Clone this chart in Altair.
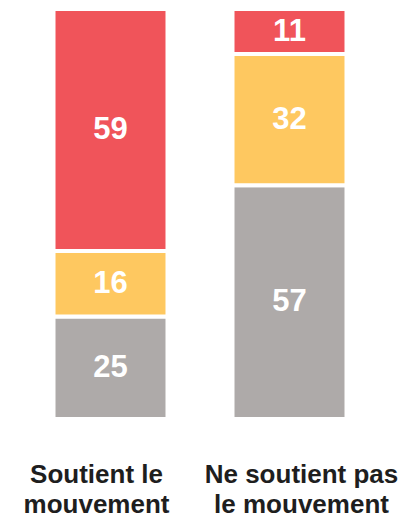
import altair as alt
import pandas as pd

groups = ["Soutient le|mouvement", "Ne soutient pas|le mouvement"]
segments = ["Sans avis", "Neutre", "Oui"]          # bottom -> top
seg_colors = ["#AEAAA9", "#FEC860", "#F0545A"]
values = {
    "Soutient le|mouvement": [25, 16, 59],
    "Ne soutient pas|le mouvement": [57, 32, 11],
}

rows = []
for g in groups:
    for i, s in enumerate(segments):
        rows.append({"groupe": g, "segment": s, "ordre": i, "valeur": values[g][i]})
df = pd.DataFrame(rows)

base = alt.Chart(df).transform_stack(
    stack="valeur", groupby=["groupe"], as_=["v0", "v1"],
    sort=[alt.SortField("ordre", order="ascending")]
).transform_calculate(mid="(datum.v0 + datum.v1) / 2")

x_enc = alt.X(
    "groupe:N", sort=groups, title=None,
    scale=alt.Scale(paddingInner=0, paddingOuter=0),
    axis=alt.Axis(
        labelExpr="split(datum.value, '|')",
        ticks=False, domain=False, grid=False,
        labelAngle=0, labelFont="Liberation Sans", labelFontWeight="bold",
        labelFontSize=26, labelColor="#1e1e1e", labelLineHeight=30,
        labelBaseline="top", labelPadding=42, labelLimit=0,
        labelOffset={"condition": {"test": "datum.value == 'Soutient le|mouvement'", "value": -14}, "value": 12},
    ),
)
y_scale = alt.Scale(domain=[0, 100], nice=False, zero=True)

bars = base.mark_bar(size=114, stroke="white", strokeWidth=4).encode(
    x=x_enc,
    y=alt.Y("v0:Q", scale=y_scale, axis=None),
    y2="v1:Q",
    color=alt.Color("segment:N", scale=alt.Scale(domain=segments, range=seg_colors), legend=None),
)

labels = base.mark_text(
    color="white", font="Liberation Sans", fontWeight="bold", fontSize=31,
    baseline="middle", align="center"
).encode(
    x=alt.X("groupe:N", sort=groups),
    y=alt.Y("mid:Q", scale=y_scale),
    text="valeur:Q",
)

chart = alt.layer(bars, labels).properties(
    width=358, height=410,
    autosize=alt.AutoSizeParams(type="none"),
    padding={"left": 13, "top": 1, "right": 19, "bottom": 95},
).configure_view(stroke=None)

chart.save("out.html", embed_options={"renderer": "svg", "actions": False})
